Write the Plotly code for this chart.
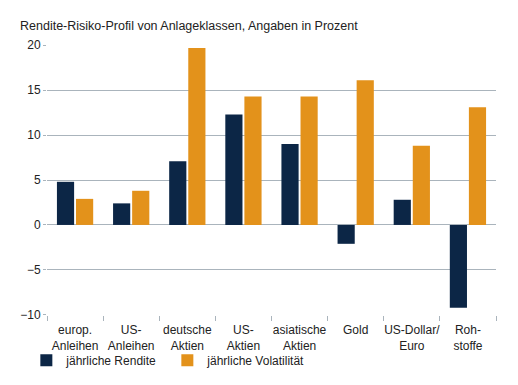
import plotly.graph_objects as go

categories = ["europ.<br>Anleihen", "US-<br>Anleihen", "deutsche<br>Aktien", "US-<br>Aktien",
              "asiatische<br>Aktien", "Gold", "US-Dollar/<br>Euro", "Roh-<br>stoffe"]
rendite = [4.8, 2.4, 7.1, 12.3, 9.0, -2.1, 2.8, -9.2]
volatilitaet = [2.9, 3.8, 19.7, 14.3, 14.3, 16.1, 8.8, 13.1]
y_ticks = [-10, -5, 0, 5, 10, 15, 20]
y_tick_labels = ["−10", "−5", "0", "5", "10", "15", "20"]

NAVY = "#0c2646"
ORANGE = "#e3921b"
GRID = "#aab4bc"
FONT = "Liberation Sans, Arial, sans-serif"

fig = go.Figure()
fig.add_trace(go.Bar(x=categories, y=rendite, name="jährliche Rendite",
                     marker=dict(color=NAVY, line=dict(width=0))))
fig.add_trace(go.Bar(x=categories, y=volatilitaet, name="jährliche Volatilität",
                     marker=dict(color=ORANGE, line=dict(width=0))))

fig.update_layout(
    width=518, height=385,
    margin=dict(l=47, r=22, t=45, b=70, autoexpand=False),
    paper_bgcolor="white", plot_bgcolor="white",
    font=dict(family=FONT, size=12, color="#222222"),
    title=dict(text="Rendite-Risiko-Profil von Anlageklassen, Angaben in Prozent",
               x=20 / 518, xanchor="left", xref="container",
               y=1 - 26 / 385, yanchor="middle", yref="container",
               font=dict(size=12.5, color="#222222")),
    barmode="group", bargap=0.32, bargroupgap=0.1,
    showlegend=True,
    legend=dict(orientation="h", x=-0.046, xanchor="left", y=-0.114, yanchor="top",
                entrywidth=96, entrywidthmode="pixels",
                font=dict(size=12, color="#222222"), itemwidth=30,
                bgcolor="rgba(0,0,0,0)"),
)
fig.update_yaxes(range=[-10.02, 20.02], tickvals=y_ticks, ticktext=y_tick_labels,
                 showgrid=True, gridcolor=GRID, gridwidth=1, zeroline=False,
                 ticks="outside", ticklen=3, tickcolor=GRID, showline=False,
                 automargin=False, tickfont=dict(size=12, color="#222222"))
fig.update_xaxes(showgrid=False, ticks="outside", tickson="boundaries", ticklen=5,
                 tickcolor=GRID, showline=False, tickangle=0, automargin=False,
                 ticklabelstandoff=6,
                 tickfont=dict(size=12, color="#222222"))

fig.write_html("out.html", config={"displayModeBar": False},
               post_script="document.body.style.margin='0';")
